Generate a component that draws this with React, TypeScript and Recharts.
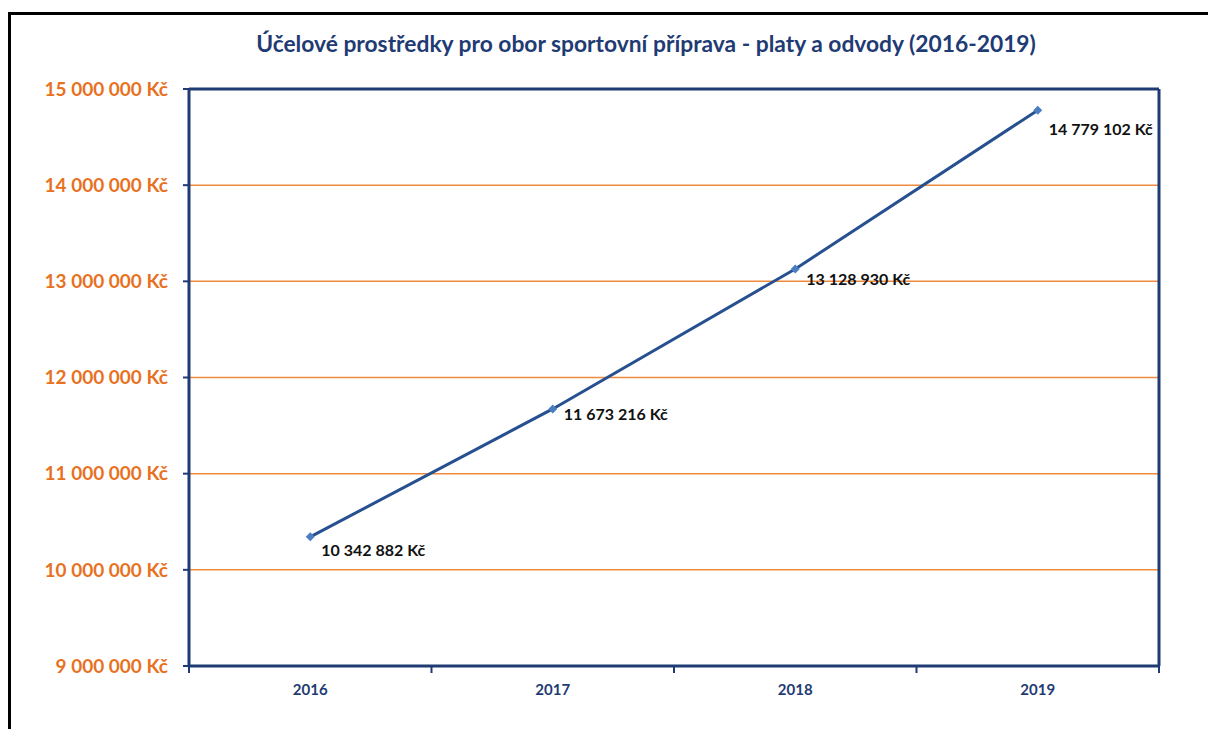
import React from "react";
import {
  LineChart,
  Line,
  XAxis,
  YAxis,
  LabelList,
  ReferenceLine,
} from "recharts";

const years = ["2016", "2017", "2018", "2019"];
const amounts = [10342882, 11673216, 13128930, 14779102];
const yTicks = [9000000, 10000000, 11000000, 12000000, 13000000, 14000000, 15000000];

const title = "Účelové prostředky pro obor sportovní příprava - platy a odvody (2016-2019)";

const NAVY = "#1F3B73";
const ORANGE = "#E8711F";
const GRID = "#F08A3E";
const LINE = "#26508F";
const MARKER = "#4A7EC0";
const FONT = "Lato, 'Open Sans', sans-serif";

const labelDy = [15, 7, 12, 21];

const data = years.map((y, i) => ({ pos: i + 0.5, year: y, value: amounts[i] }));
const xTicks = [
  ...years.map((_, i) => i),
  years.length,
  ...years.map((_, i) => i + 0.5),
].sort((a, b) => a - b);

const fmt = (v: number) =>
  String(Math.round(v)).replace(/\B(?=(\d{3})+(?!\d))/g, " ") + " Kč";

const XTick = (props: any) => {
  const { x, y, payload } = props;
  const v = payload.value;
  if (Number.isInteger(v)) {
    return <line x1={x} x2={x} y1={y} y2={y + 7} stroke={NAVY} strokeWidth={2} />;
  }
  return (
    <text
      x={x}
      y={y + 29}
      textAnchor="middle"
      fill={NAVY}
      fontFamily={FONT}
      fontWeight="bold"
      fontSize={15}
    >
      {years[Math.floor(v)]}
    </text>
  );
};

const Diamond = (props: any) => {
  const { cx, cy } = props;
  if (cx == null || cy == null) return null;
  const r = 4.5;
  return (
    <path
      d={`M${cx},${cy - r}L${cx + r},${cy}L${cx},${cy + r}L${cx - r},${cy}Z`}
      fill={MARKER}
    />
  );
};

const ValueLabel = (props: any) => {
  const { x, y, value, index } = props;
  return (
    <text
      x={x + 11}
      y={y + labelDy[index]}
      dominantBaseline="middle"
      fill="#111"
      fontFamily={FONT}
      fontWeight="bold"
      fontSize={16}
    >
      {fmt(value)}
    </text>
  );
};

export default function App() {
  const gridTicks = yTicks.slice(1, -1);
  return (
    <div
      style={{
        position: "fixed",
        left: 0,
        top: 0,
        width: 1208,
        height: 729,
        overflow: "hidden",
        background: "#fff",
      }}
    >
      <div
        style={{
          position: "absolute",
          left: 8,
          top: 12,
          width: 1400,
          height: 1000,
          borderLeft: "3px solid #000",
          borderTop: "3px solid #000",
        }}
      />
      <div
        style={{
          position: "absolute",
          left: 196,
          top: 29,
          width: 900,
          textAlign: "center",
          color: NAVY,
          fontFamily: FONT,
          fontWeight: "bold",
          fontSize: 22.8,
          whiteSpace: "nowrap",
        }}
      >
        {title}
      </div>
      <div style={{ position: "absolute", left: 0, top: 0 }}>
        <LineChart
          width={1208}
          height={729}
          data={data}
          margin={{ top: 89, right: 49, bottom: 0, left: 0 }}
        >
          {gridTicks.map((t) => (
            <ReferenceLine key={t} y={t} stroke={GRID} strokeWidth={1.5} />
          ))}
          <XAxis
            dataKey="pos"
            type="number"
            domain={[0, years.length]}
            ticks={xTicks}
            interval={0}
            height={63}
            tickLine={false}
            tickSize={0}
            tickMargin={0}
            axisLine={{ stroke: NAVY, strokeWidth: 3 }}
            tick={<XTick />}
          />
          <YAxis
            type="number"
            domain={[yTicks[0], yTicks[yTicks.length - 1]]}
            ticks={yTicks}
            interval={0}
            width={189}
            tickSize={6}
            tickMargin={15}
            tickLine={{ stroke: NAVY, strokeWidth: 2 }}
            axisLine={{ stroke: NAVY, strokeWidth: 3 }}
            tickFormatter={fmt}
            tick={{ fill: ORANGE, fontFamily: FONT, fontWeight: "bold", fontSize: 19 }}
          />
          <ReferenceLine y={yTicks[yTicks.length - 1]} stroke={NAVY} strokeWidth={3} />
          <ReferenceLine x={years.length} stroke={NAVY} strokeWidth={3} />
          <Line
            dataKey="value"
            stroke={LINE}
            strokeWidth={3}
            dot={<Diamond />}
            activeDot={false}
            isAnimationActive={false}
          >
            <LabelList dataKey="value" content={<ValueLabel />} />
          </Line>
        </LineChart>
      </div>
    </div>
  );
}
